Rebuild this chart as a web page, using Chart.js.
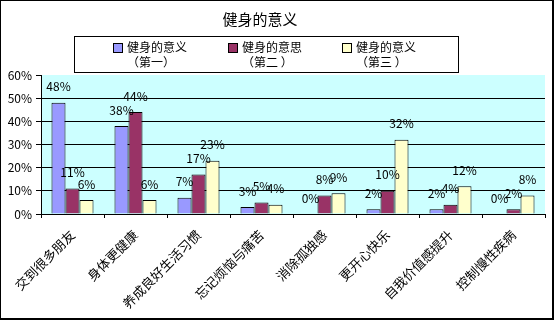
<!DOCTYPE html>
<html lang="zh-CN">
<head>
<meta charset="utf-8">
<title>健身的意义</title>
<script src="https://cdn.jsdelivr.net/npm/chart.js@4.4.0/dist/chart.umd.min.js"></script>
<style>
    html, body { margin: 0; padding: 0; background: #fff; }
    #wrap { position: relative; width: 556px; height: 322px; font-family: "Noto Sans CJK SC", sans-serif; color: #000; }
    #wrap canvas { position: absolute; left: 0; top: 0; }
    #frame { position: absolute; left: 0; top: 0; width: 551px; height: 317px; border: 1px solid #000; border-right-width: 2px; border-bottom-width: 2px; pointer-events: none; }
    #title { position: absolute; left: 0; top: 9px; width: 520px; text-align: center; font-size: 15px; line-height: 20px; }
    #legend { position: absolute; left: 74px; top: 36px; width: 383px; height: 35px; border: 1px solid #000; background: #fff; }
    .legend-item { position: absolute; top: 2px; font-size: 12px; line-height: 15px; white-space: nowrap; }
    .legend-item i { position: absolute; left: -14px; top: 4px; width: 8px; height: 8px; border: 1px solid #000; }
</style>
</head>
<body>
<div id="wrap">
    <canvas id="fitnessChart" width="556" height="322"></canvas>
    <div id="title">健身的意义</div>
    <div id="legend"></div>
    <div id="frame"></div>
</div>
<script>
// =========================================================================
// DỮ LIỆU (DATA)
// =========================================================================

const categories = ['交到很多朋友', '身体更健康', '养成良好生活习惯', '忘记烦恼与痛苦', '消除孤独感', '更开心快乐', '自我价值感提升', '控制慢性疾病'];

const seriesNames = ['健身的意义', '健身的意思', '健身的意义'];
const seriesSubNames = ['（第一）', '（第二 ）', '（第三 ）'];
const seriesColors = ['#9999FF', '#993366', '#FFFFCC'];

const firstValues = [48, 38, 7, 3, 0, 2, 2, 0];
const secondValues = [11, 44, 17, 5, 8, 10, 4, 2];
const thirdValues = [6, 6, 23, 4, 9, 32, 12, 8];

const yTicks = [0, 10, 20, 30, 40, 50, 60];

const FONT = '"Noto Sans CJK SC", sans-serif';

// =========================================================================
// HÀM TIỆN ÍCH (HELPER FUNCTIONS)
// =========================================================================

function formatPercent(v) {
    return v + '%';
}

// Legend HTML: ô màu + 2 dòng chữ
function renderLegend() {
    const lefts = [127, 242, 356];
    const el = document.getElementById('legend');
    el.innerHTML = seriesNames.map((name, i) =>
        `<div class="legend-item" style="left:${lefts[i] - 75}px"><i style="background:${seriesColors[i]}"></i>${name}<br>${seriesSubNames[i]}</div>`
    ).join('');
}

// Plugin: nền vùng biểu đồ màu xanh nhạt
const plotBackground = {
    id: 'plotBackground',
    beforeDraw(chart) {
        const { ctx, chartArea: a } = chart;
        ctx.save();
        ctx.fillStyle = '#CCFFFF';
        ctx.fillRect(a.left, a.top, a.right - a.left, a.bottom - a.top);
        ctx.restore();
    }
};

// Plugin: nhãn giá trị phía trên mỗi cột
const valueLabels = {
    id: 'valueLabels',
    afterDatasetsDraw(chart) {
        const ctx = chart.ctx;
        ctx.save();
        ctx.font = '12px ' + FONT;
        ctx.fillStyle = '#000';
        ctx.textAlign = 'center';
        ctx.textBaseline = 'bottom';
        chart.data.datasets.forEach((ds, di) => {
            chart.getDatasetMeta(di).data.forEach((bar, i) => {
                ctx.fillText(formatPercent(ds.data[i]), bar.x, bar.y - 10);
            });
        });
        ctx.restore();
    }
};

// =========================================================================
// VẼ BIỂU ĐỒ (CHART)
// =========================================================================

function makeDataset(i, values) {
    return {
        label: seriesNames[i] + seriesSubNames[i],
        data: values,
        backgroundColor: seriesColors[i],
        borderColor: '#000',
        borderWidth: 1,
        barPercentage: 1,
        categoryPercentage: 0.667
    };
}

function drawChart() {
    const ctx = document.getElementById('fitnessChart').getContext('2d');
    new Chart(ctx, {
        type: 'bar',
        data: {
            labels: categories,
            datasets: [
                makeDataset(0, firstValues),
                makeDataset(1, secondValues),
                makeDataset(2, thirdValues)
            ]
        },
        options: {
            responsive: false,
            animation: false,
            devicePixelRatio: 1,
            layout: { padding: { top: 75, right: 11, left: 0, bottom: 0 } },
            plugins: {
                legend: { display: false },
                title: { display: false },
                tooltip: { enabled: false }
            },
            scales: {
                x: {
                    afterFit(scale) { scale.height = 108; },
                    border: { color: '#000', width: 1 },
                    grid: { drawOnChartArea: false, color: '#000', tickLength: 4 },
                    ticks: {
                        color: '#000',
                        font: { size: 13, family: FONT },
                        minRotation: 45,
                        maxRotation: 45,
                        autoSkip: false,
                        padding: 9
                    }
                },
                y: {
                    min: 0,
                    max: 60,
                    afterFit(scale) { scale.width = 41; },
                    afterBuildTicks(scale) { scale.ticks = yTicks.map(v => ({ value: v })); },
                    border: { color: '#000', width: 1 },
                    grid: {
                        color: c => (c.tick && c.tick.value === 60) ? 'rgba(0,0,0,0)' : '#000',
                        tickColor: '#000',
                        tickLength: 5,
                        lineWidth: 1
                    },
                    ticks: {
                        color: '#000',
                        font: { size: 12, family: FONT },
                        padding: 4,
                        callback: v => formatPercent(v)
                    }
                }
            }
        },
        plugins: [plotBackground, valueLabels]
    });
}

// =========================================================================
// KHỞI TẠO (INITIALIZATION)
// =========================================================================

renderLegend();
drawChart();
</script>
</body>
</html>
